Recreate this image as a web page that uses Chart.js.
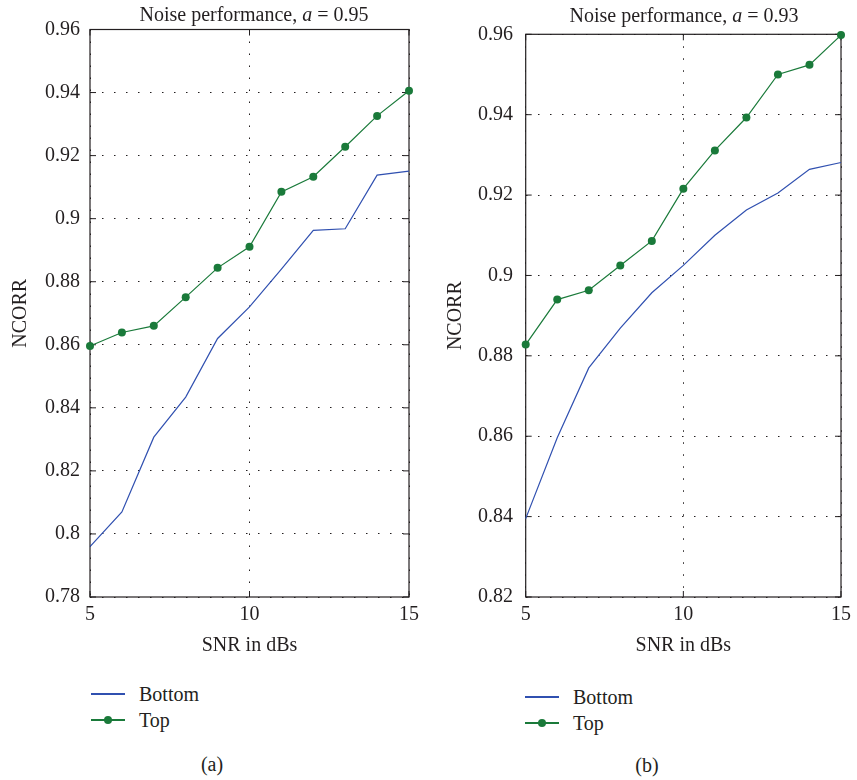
<!DOCTYPE html>
<html>
<head>
<meta charset="utf-8">
<script src="https://cdn.jsdelivr.net/npm/chart.js@4"></script>
<style>
  body { margin: 0; background: #fff; }
  #page { position: relative; width: 857px; height: 780px; font-family: "Liberation Serif", serif; color: #231f20; }
  .box { position: absolute; top: 0; height: 662px; }
  .title { position: absolute; font-size: 20px; line-height: 24px; white-space: nowrap; transform: translateX(-50%); }
  .sub { position: absolute; font-size: 20px; line-height: 24px; transform: translateX(-50%); }
  .legend { position: absolute; font-size: 20px; line-height: 26px; }
  .row { display: flex; align-items: center; height: 26px; }
  .swatch { position: relative; width: 34px; height: 2px; margin-right: 14px; }
  .dot { position: absolute; left: 13px; top: -3px; width: 8px; height: 8px; border-radius: 50%; }
</style>
</head>
<body>
<div id="page">
  <div class="box" style="left:0; width:430px;"><canvas id="chartA"></canvas></div>
  <div class="box" style="left:430px; width:427px;"><canvas id="chartB"></canvas></div>
  <div class="title" style="left:254px; top:2px;">Noise performance, <i>a</i> = 0.95</div>
  <div class="title" style="left:684px; top:3px;">Noise performance, <i>a</i> = 0.93</div>
  <div class="legend" id="legendA" style="left:91px; top:681px;"></div>
  <div class="legend" id="legendB" style="left:525px; top:684px;"></div>
  <div class="sub" style="left:212px; top:752px;">(a)</div>
  <div class="sub" style="left:647px; top:753px;">(b)</div>
</div>
<script>
const snr = [5, 6, 7, 8, 9, 10, 11, 12, 13, 14, 15];

const bottomA = [0.796, 0.807, 0.8307, 0.8434, 0.862, 0.872, 0.884, 0.8963, 0.8968, 0.9138, 0.9151];
const topA = [0.8596, 0.8639, 0.866, 0.8751, 0.8844, 0.8911, 0.9085, 0.9133, 0.9228, 0.9326, 0.9406];

const bottomB = [0.8395, 0.8596, 0.877, 0.8869, 0.8957, 0.9025, 0.910, 0.9163, 0.9205, 0.9264, 0.9281];
const topB = [0.8828, 0.894, 0.8963, 0.9025, 0.9086, 0.9216, 0.9311, 0.9393, 0.950, 0.9524, 0.9598];

const INK = "#231f20";
const BLUE = "#3050b0";
const GREEN = "#1a7a3a";
const FONT = "Liberation Serif";

// box round the plot plus short inner ticks on all four sides
const frame = {
  id: "frame",
  beforeDatasetsDraw(chart) {
    const { ctx, chartArea: a, scales } = chart;
    ctx.save();
    ctx.strokeStyle = INK;
    ctx.lineWidth = 1.2;
    ctx.strokeRect(a.left, a.top, a.right - a.left, a.bottom - a.top);
    ctx.lineWidth = 1;
    ctx.beginPath();
    for (const t of scales.x.ticks) {
      const px = scales.x.getPixelForValue(t.value);
      ctx.moveTo(px, a.bottom); ctx.lineTo(px, a.bottom - 6);
      ctx.moveTo(px, a.top); ctx.lineTo(px, a.top + 6);
    }
    for (const t of scales.y.ticks) {
      const py = scales.y.getPixelForValue(t.value);
      ctx.moveTo(a.left, py); ctx.lineTo(a.left + 6, py);
      ctx.moveTo(a.right, py); ctx.lineTo(a.right - 6, py);
    }
    ctx.stroke();
    ctx.restore();
  }
};

function makeChart(id, bottom, top, yMin, opts) {
  new Chart(document.getElementById(id), {
    type: "line",
    data: {
      datasets: [
        {
          label: "Bottom",
          data: snr.map((x, i) => ({ x: x, y: bottom[i] })),
          borderColor: BLUE,
          borderWidth: 1.2,
          pointRadius: 0,
          clip: false
        },
        {
          label: "Top",
          data: snr.map((x, i) => ({ x: x, y: top[i] })),
          borderColor: GREEN,
          backgroundColor: GREEN,
          borderWidth: 1.2,
          pointRadius: 4,
          pointBorderWidth: 0,
          clip: false
        }
      ]
    },
    options: {
      responsive: true,
      maintainAspectRatio: false,
      animation: false,
      layout: {
        padding: { top: opts.top, right: opts.right, bottom: 0, left: 0 }
      },
      plugins: {
        legend: { display: false },
        tooltip: { enabled: false }
      },
      scales: {
        x: {
          type: "linear",
          min: 5,
          max: 15,
          afterFit: function(scale) { scale.height = 65; },
          ticks: { stepSize: 5, padding: 6, color: INK, font: { family: FONT, size: 20 } },
          grid: { color: INK, lineWidth: 1, drawTicks: false },
          border: { display: false, dash: [1.5, 10.5] },
          title: { display: true, text: "SNR in dBs", color: INK, font: { family: FONT, size: 20 }, padding: { top: 4, bottom: 4 } }
        },
        y: {
          min: yMin,
          max: 0.96,
          afterFit: function(scale) { scale.width = opts.axisW; },
          ticks: {
            stepSize: 0.02,
            padding: opts.tickPad,
            color: INK,
            font: { family: FONT, size: 20 },
            callback: v => String(+v.toFixed(2))
          },
          grid: { color: INK, lineWidth: 1, drawTicks: false },
          border: { display: false, dash: [1.5, 10.5] },
          title: { display: true, text: "NCORR", color: INK, font: { family: FONT, size: 20 }, padding: { top: opts.titlePad, bottom: 4 } }
        }
      }
    },
    plugins: [frame]
  });
}

function legend(id) {
  const el = document.getElementById(id);
  const items = [{ label: "Bottom", color: BLUE, dot: false }, { label: "Top", color: GREEN, dot: true }];
  for (const it of items) {
    const row = document.createElement("div");
    row.className = "row";
    const sw = document.createElement("div");
    sw.className = "swatch";
    sw.style.background = it.color;
    if (it.dot) {
      const d = document.createElement("div");
      d.className = "dot";
      d.style.background = it.color;
      sw.appendChild(d);
    }
    row.appendChild(sw);
    row.appendChild(document.createTextNode(it.label));
    el.appendChild(row);
  }
}

makeChart("chartA", bottomA, topA, 0.78, { top: 29.5, right: 21, axisW: 90, tickPad: 10, titlePad: 9 });
makeChart("chartB", bottomB, topB, 0.82, { top: 34.3, right: 12.7, axisW: 95.7, tickPad: 12.7, titlePad: 13.5 });
legend("legendA");
legend("legendB");
</script>
</body>
</html>
